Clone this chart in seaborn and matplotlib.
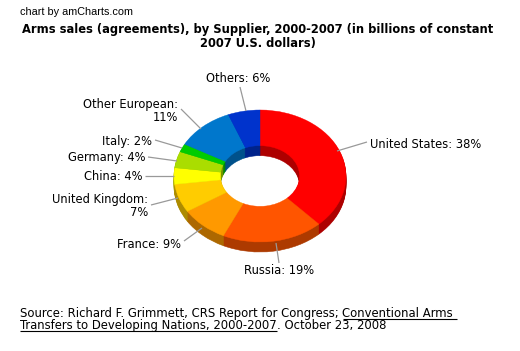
import matplotlib
matplotlib.use("Agg")
import matplotlib.pyplot as plt
import matplotlib.colors as mcolors
import seaborn as sns
import numpy as np

# ---- data ----
suppliers = ["United States", "Russia", "France", "United Kingdom", "China",
             "Germany", "Italy", "Other European", "Others"]
shares = [38, 19, 9, 7, 4, 4, 2, 11, 6]
label_texts = ["United States: 38%", "Russia: 19%", "France: 9%", "United Kingdom:\n7%",
               "China: 4%", "Germany: 4%", "Italy: 2%", "Other European:\n11%", "Others: 6%"]

title = "Arms sales (agreements), by Supplier, 2000-2007 (in billions of constant\n2007 U.S. dollars)"

# ---- style ----
colors = ["#FF0000", "#FF5500", "#FF9900", "#FFCC00", "#FFFF00",
          "#AADD00", "#00CC00", "#0077CC", "#0033CC"]
dark = [tuple(np.array(mcolors.to_rgb(c)) * 0.68) for c in colors]

sns.set_theme(style="white")
plt.rcParams["font.family"] = ["DejaVu Sans"]
plt.rcParams["text.color"] = "black"

W, H = 520, 351
fig = plt.figure(figsize=(W / 100, H / 100), dpi=100)

# pie geometry (pixels)
cx, cy, rx, ry, thick = 260, 176, 86, 66, 10

ax = fig.add_axes([0, 0, 1, 1])
ax.set_axis_off()
for k in range(thick, 0, -1):
    ws, _ = ax.pie(shares, colors=dark, startangle=90, counterclock=False,
                   center=(0, -k / ry), radius=1,
                   wedgeprops=dict(width=0.54))
    for w, c in zip(ws, dark):
        w.set_edgecolor(c)
        w.set_linewidth(0.4)
wedges, _ = ax.pie(shares, colors=colors, startangle=90, counterclock=False,
                   center=(0, 0), radius=1,
                   wedgeprops=dict(width=0.54))
for w, c in zip(wedges, colors):
    w.set_edgecolor(c)
    w.set_linewidth(0.3)
ax.set_aspect("auto")
ax.set_xlim((0 - cx) / rx, (W - cx) / rx)
ax.set_ylim((cy - H) / ry, (cy - 0) / ry)

# overlay in pixel coords
ov = fig.add_axes([0, 0, 1, 1], facecolor="none")
ov.set_xlim(0, W)
ov.set_ylim(H, 0)
ov.set_axis_off()

# label placements: (text x, text y, ha, line start(x,y), line end(x,y))
placements = [
    (370, 145, "left", (337, 151), (367, 142)),
    (279, 271, "center", (276, 243), (279, 263)),
    (181, 244, "right", (202, 228), (184, 241)),
    (148, 206, "right", (178, 198), (151, 205)),
    (142, 177, "right", (174, 176), (145, 176)),
    (145, 157, "right", (177, 161), (148, 157)),
    (152, 141, "right", (182, 148), (155, 140)),
    (178, 111, "right", (201, 129), (181, 109)),
    (238, 78, "center", (246, 111), (240, 87)),
]
for txt, (tx, ty, ha, p0, p1) in zip(label_texts, placements):
    ov.plot([p0[0], p1[0]], [p0[1], p1[1]], color="#999999", lw=0.9, solid_capstyle="butt")
    ov.text(tx, ty, txt, ha=ha, va="center", fontsize=8.3, color="black",
            multialignment=ha if ha != "center" else "center", linespacing=1.0)

# header texts
ov.text(20, 12, "chart by amCharts.com", fontsize=7.8, family="Liberation Sans",
        ha="left", va="center", color="black")
ov.text(258, 36.5, title, fontsize=8.3, fontweight="bold", ha="center", va="center",
        linespacing=1.05, color="black")

# source text with underlined parts
renderer = fig.canvas.get_renderer()
inv = ov.transData.inverted()

def put(x, y, s, underline=False):
    t = ov.text(x, y, s, fontsize=8.4, ha="left", va="baseline", color="black")
    bb = t.get_window_extent(renderer=renderer)
    (x0, _), (x1, _) = inv.transform([(bb.x0, bb.y0), (bb.x1, bb.y0)])
    if underline:
        ov.plot([x0, x1], [y + 2, y + 2], color="black", lw=0.8, solid_capstyle="butt")
    return x1

x = put(20, 317, "Source: Richard F. Grimmett, CRS Report for Congress; ")
put(x, 317, "Conventional Arms ", underline=True)
x = put(20, 329, "Transfers to Developing Nations, 2000-2007", underline=True)
put(x, 329, ". October 23, 2008")

fig.savefig("out.png", dpi=100, facecolor="white")
